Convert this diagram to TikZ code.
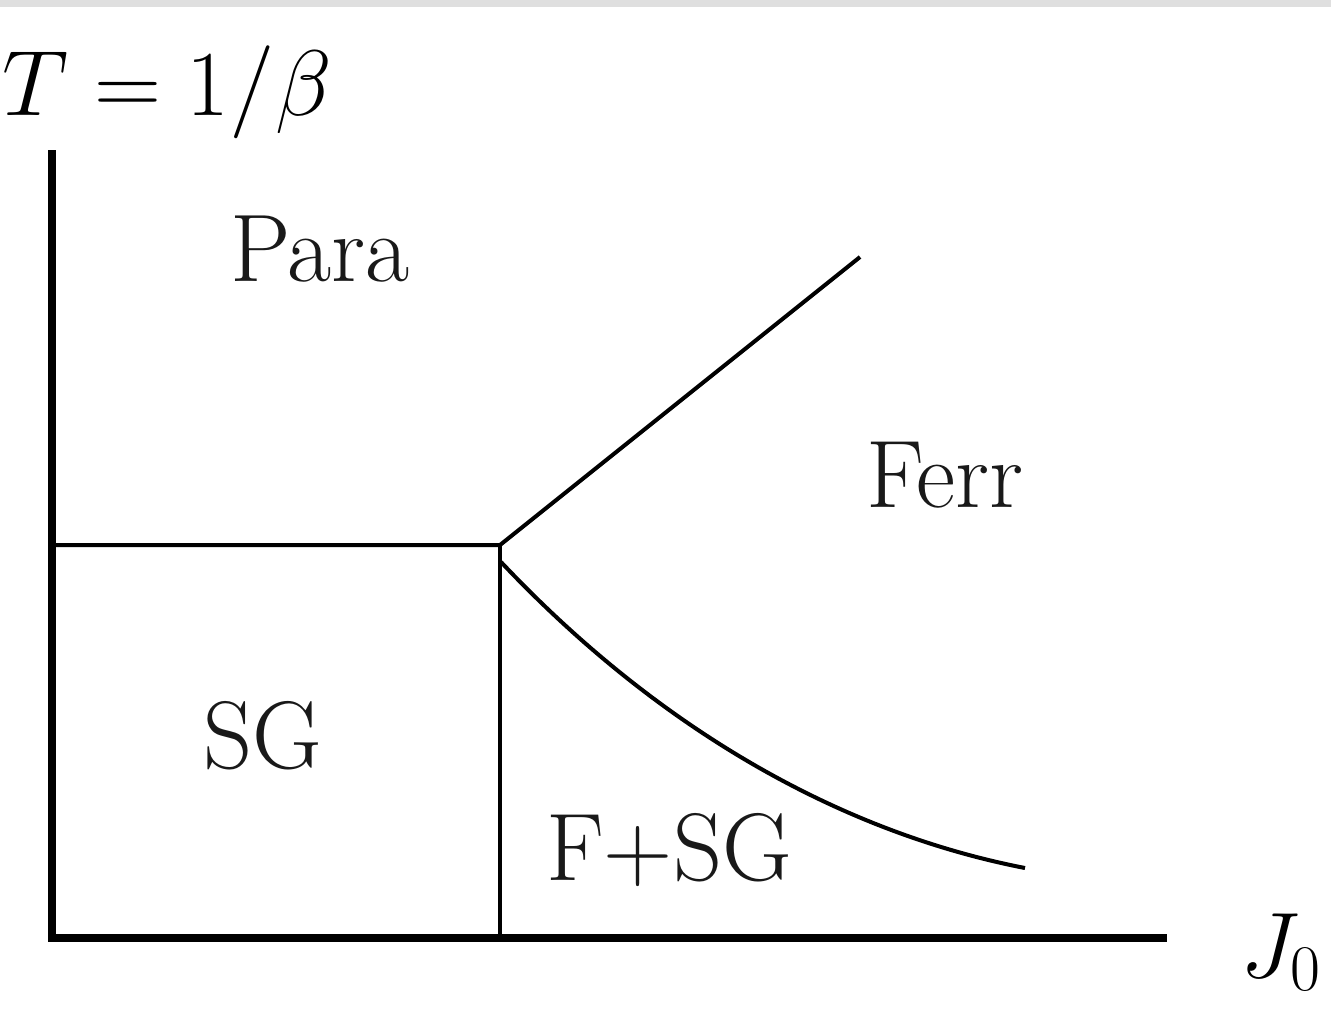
\RequirePackage{fix-cm}
\documentclass[tikz,border=0pt]{standalone}
\begin{document}
\begin{tikzpicture}[x=0.5pt,y=-0.5pt,
  region/.style={font=\fontsize{48}{54}\selectfont, inner sep=0pt, text=black!90},
  axislabel/.style={font=\fontsize{46.5}{52}\selectfont, inner sep=0pt},
  axis/.style={line width=4pt},
  boundary/.style={line width=2pt}]
  % canvas and top band
  \fill[white] (0,0) rectangle (1331,1019);
  \fill[gray!25] (0,0) rectangle (1331,7);
  \useasboundingbox (0,0) rectangle (1331,1019);
  % axes
  \coordinate (top) at (52,150);
  \coordinate (origin) at (52,942);
  \coordinate (axstart) at (48,938);
  \coordinate (right) at (1167,938);
  \draw[axis] (top) -- (origin);
  \draw[axis] (axstart) -- (right);
  % phase boundaries
  \coordinate (left) at (54,545);
  \coordinate (tri) at (500,545);
  \coordinate (base) at (500,936);
  \coordinate (up) at (860,257);
  \coordinate (cstart) at (501,562);
  \coordinate (cend) at (1025,868);
  \draw[boundary] (left) -- (tri) -- (up);
  \draw[boundary] (tri) -- (base);
  \draw[boundary] (cstart) .. controls (650,720) and (830,830) .. (cend);
  % labels
  \node[axislabel, anchor=base west] (tlabel) at (2,115) {$T=1/\beta$};
  \node[axislabel, anchor=base west] (jlabel) at (1240,977) {$J_0$};
  \node[region, anchor=base] (para) at (320,281) {Para};
  \node[region, anchor=base] (ferr) at (945,507) {Ferr};
  \node[region, anchor=base] (sg) at (263,768) {SG};
  \node[region, anchor=base] (fsg) at (669,880) {F+SG};
\end{tikzpicture}
\end{document}
